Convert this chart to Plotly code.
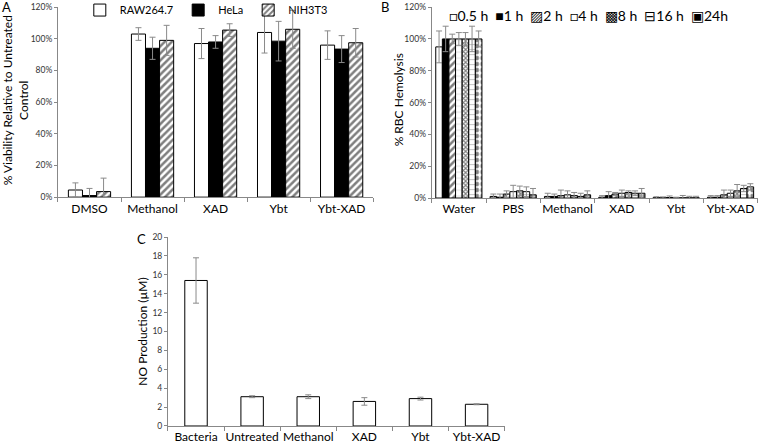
import plotly.graph_objects as go

# Panel A: viability
cats_a = ["DMSO", "Methanol", "XAD", "Ybt", "Ybt-XAD"]
raw264 = [4.5, 103, 97, 104, 96]
raw264_err = [4.5, 4, 9.5, 13, 9]
hela = [1, 94, 98, 98.5, 93.5]
hela_err = [4.5, 7, 4, 12.5, 8.5]
nih3t3 = [3.5, 99, 105.5, 106, 97.5]
nih3t3_err = [8.5, 9.5, 4, 12, 9]

# Panel B: hemolysis
cats_b = ["Water", "PBS", "Methanol", "XAD", "Ybt", "Ybt-XAD"]
times_b = ["0.5 h", "1 h", "2 h", "4 h", "8 h", "16 h", "24h"]
glyphs_b = ["□", "■", "▨", "□", "▩", "⊟", "▣"]
hemo = [
    [95, 1, 1, 0.5, 0.3, 0.5],
    [100, 0.5, 1, 1.5, 0.2, 0.5],
    [100, 2.5, 1.5, 2.5, 0.3, 2],
    [100, 4, 2, 3, 0, 3],
    [100, 4.5, 1.5, 3.5, 0.1, 4.5],
    [100, 4, 1, 3, 0.1, 6],
    [100, 2, 2, 3, 0.1, 7],
]
hemo_err = [
    [10, 1.5, 2, 1, 0.5, 1],
    [8, 2, 1.5, 2.5, 0.5, 1],
    [3, 2, 3.5, 1, 1, 3],
    [4, 4, 2.5, 2, 0.5, 2],
    [4, 3, 2, 1, 1.5, 4],
    [8, 3, 2, 1.5, 1, 2],
    [5, 4, 2.5, 3, 1, 2],
]

# Panel C: NO production
cats_c = ["Bacteria", "Untreated", "Methanol", "XAD", "Ybt", "Ybt-XAD"]
no_vals = [15.4, 3.1, 3.1, 2.6, 2.9, 2.3]
no_err = [2.4, 0.1, 0.2, 0.4, 0.15, 0.05]

FONT = "Lato"
ERR = dict(type="data", color="#8a8a8a", thickness=1, width=3)
LINE = dict(color="black", width=1)

fig = go.Figure()

styles_a = [
    ("RAW264.7", raw264, raw264_err, dict(color="white")),
    ("HeLa", hela, hela_err, dict(color="black")),
    ("NIH3T3", nih3t3, nih3t3_err,
     dict(color="white", pattern=dict(shape="/", fgcolor="black", size=5, solidity=0.5))),
]
for name, vals, errs, mk in styles_a:
    fig.add_trace(go.Bar(
        x=cats_a, y=vals, name=name, xaxis="x", yaxis="y", legend="legend",
        marker=dict(line=LINE, **mk),
        error_y=dict(array=errs, **ERR),
    ))

patterns_b = [
    dict(color="white"),
    dict(color="black"),
    dict(color="white", pattern=dict(shape="/", fgcolor="black", size=5, solidity=0.5)),
    dict(color="white", pattern=dict(shape="-", fgcolor="#bbbbbb", size=6, solidity=0.15)),
    dict(color="white", pattern=dict(shape="x", fgcolor="black", size=3, solidity=0.6)),
    dict(color="white", pattern=dict(shape="-", fgcolor="#888888", size=5, solidity=0.2)),
    dict(color="white", pattern=dict(shape=".", fgcolor="black", size=6, solidity=0.5)),
]
bw_b = 0.85 / len(times_b)
for i, (name, vals, errs, mk) in enumerate(zip(times_b, hemo, hemo_err, patterns_b)):
    fig.add_trace(go.Bar(
        x=cats_b, y=vals, name=name, xaxis="x2", yaxis="y2", showlegend=False,
        width=bw_b, offset=-0.425 + i * bw_b,
        marker=dict(line=LINE, **mk),
        error_y=dict(array=errs, **ERR),
    ))

fig.add_trace(go.Bar(
    x=cats_c, y=no_vals, name="NO", xaxis="x3", yaxis="y3", showlegend=False,
    marker=dict(color="white", line=LINE), width=0.4,
    error_y=dict(array=no_err, **ERR),
))

xcommon = dict(showline=True, linecolor="#888888", linewidth=1, ticks="outside",
               tickson="boundaries", ticklen=4, tickcolor="#888888", tickangle=0,
               automargin=False,
               tickfont=dict(size=12, color="black", family=FONT), showgrid=False)
ycommon = dict(showline=True, linecolor="#888888", linewidth=1, ticks="outside",
               ticklen=3, tickcolor="#888888", showgrid=False, zeroline=False,
               automargin=False,
               tickfont=dict(size=8.5, color="#333333", family=FONT))

fig.update_layout(
    width=760, height=445, margin=dict(l=0, r=0, t=0, b=0, autoexpand=False),
    paper_bgcolor="white", plot_bgcolor="white",
    font=dict(family=FONT, color="black"),
    barmode="group", bargap=0.33, bargroupgap=0,
    xaxis=dict(domain=[0.0763, 0.491], anchor="y", **xcommon),
    yaxis=dict(domain=[0.557, 0.984], anchor="x", range=[0, 120], dtick=20,
               ticksuffix="%", **ycommon),
    xaxis2=dict(domain=[0.568, 0.997], anchor="y2", **xcommon),
    yaxis2=dict(domain=[0.555, 0.984], anchor="x2", range=[0, 120], dtick=20,
                ticksuffix="%", **ycommon),
    xaxis3=dict(domain=[0.221, 0.664], anchor="y3", **xcommon),
    yaxis3=dict(domain=[0.0427, 0.4674], anchor="x3", range=[0, 20], dtick=2, **ycommon),
    legend=dict(orientation="h", x=0.105, y=1.01, xanchor="left", yanchor="top",
                font=dict(size=11, family=FONT), bgcolor="rgba(0,0,0,0)",
                itemwidth=30, tracegroupgap=0),
)

# legend of panel B as one text line (en spaces so the gaps do not collapse)
legend_b = "\u2002".join(g + t for g, t in zip(glyphs_b, times_b))
fig.add_annotation(text=legend_b, xref="paper", yref="paper", x=0.588, y=0.966,
                   xanchor="left", yanchor="middle", showarrow=False,
                   font=dict(size=14, family=FONT))

fig.add_annotation(text="% Viability Relative to Untreated<br>Control", xref="paper", yref="paper",
                   x=0.02, y=0.775, xanchor="center", yanchor="middle", textangle=-90,
                   showarrow=False, font=dict(size=12, family=FONT))
fig.add_annotation(text="% RBC Hemolysis", xref="paper", yref="paper",
                   x=0.524, y=0.775, xanchor="center", yanchor="middle", textangle=-90,
                   showarrow=False, font=dict(size=12, family=FONT))
fig.add_annotation(text="NO Production (µM)", xref="paper", yref="paper",
                   x=0.187, y=0.255, xanchor="center", yanchor="middle", textangle=-90,
                   showarrow=False, font=dict(size=12, family=FONT))
for lbl, x, y in [("A", 0.009, 0.985), ("B", 0.506, 0.985), ("C", 0.186, 0.463)]:
    fig.add_annotation(text=lbl, xref="paper", yref="paper", x=x, y=y, showarrow=False,
                       xanchor="center", yanchor="middle", font=dict(size=13, family=FONT))

fig.write_html("out.html", config={"displayModeBar": False},
               post_script="document.body.style.margin='0';")
